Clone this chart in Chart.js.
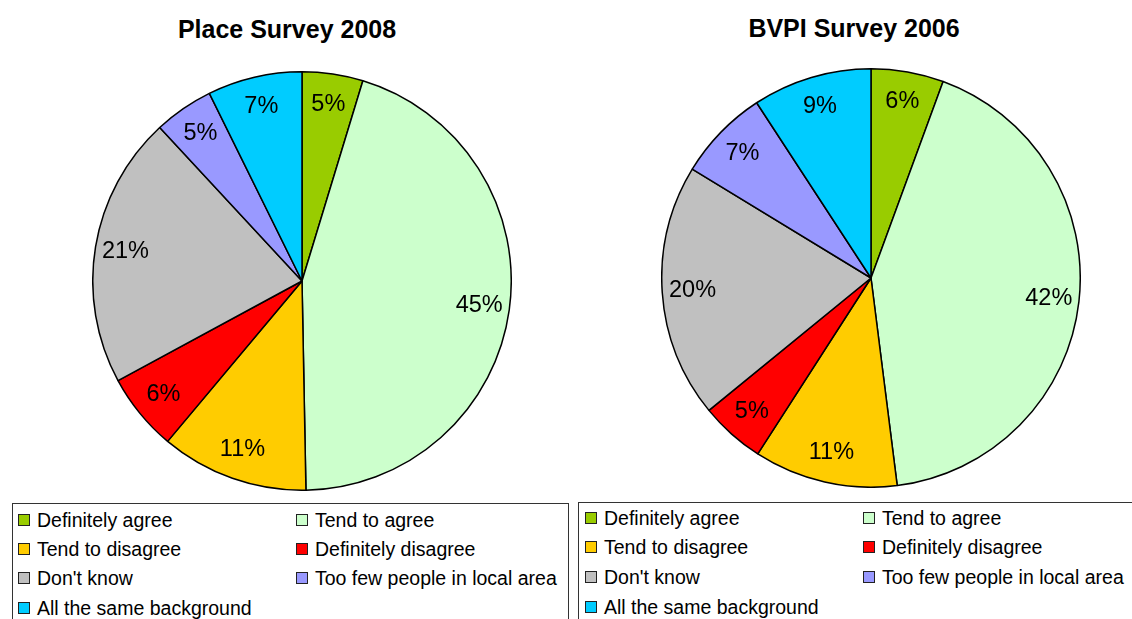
<!DOCTYPE html>
<html>
<head>
<meta charset="utf-8">
<script src="https://cdn.jsdelivr.net/npm/chart.js@4/dist/chart.umd.min.js"></script>
<style>
    body { margin: 0; background: #fff; font-family: "Liberation Sans", Arial, sans-serif; }
    #page { position: relative; width: 1132px; height: 619px; overflow: hidden; }
    .title { position: absolute; width: 400px; text-align: center; font-weight: bold; font-size: 25px; line-height: 30px; color: #000; }
    .pie { position: absolute; width: 420px; height: 420px; }
    .legend { position: absolute; border: 1px solid #333; height: 140px; box-sizing: border-box; }
    .item { position: absolute; height: 24px; line-height: 24px; font-size: 19.5px; white-space: nowrap; color: #000; }
    .swatch { position: absolute; left: 0; top: 6px; width: 10px; height: 10px; border: 1px solid #222; }
    .item span.txt { position: absolute; left: 19px; top: 0; }
</style>
</head>
<body>
<div id="page">
    <div class="title" id="titleLeft" style="left:87px; top:14px;"></div>
    <div class="pie" style="left:92px; top:71px;"><canvas id="placeChart"></canvas></div>
    <div class="legend" id="legendLeft" style="left:12px; top:503px; width:557px;"></div>

    <div class="title" id="titleRight" style="left:654px; top:13px;"></div>
    <div class="pie" style="left:661px; top:68px;"><canvas id="bvpiChart"></canvas></div>
    <div class="legend" id="legendRight" style="left:578px; top:502px; width:555px;"></div>
</div>
<script>
const LABELS = [
    'Definitely agree',
    'Tend to agree',
    'Tend to disagree',
    'Definitely disagree',
    "Don't know",
    'Too few people in local area',
    'All the same background'
];

const PLACE_2008 = [4.7, 45.0, 11.4, 6.0, 21.0, 4.6, 7.3];
const BVPI_2006 = [5.6, 42.4, 11.1, 5.0, 19.6, 7.1, 9.2];

const SLICE_COLORS = [
    '#99cc00',
    '#ccffcc',
    '#ffcc00',
    '#ff0000',
    '#c0c0c0',
    '#9999ff',
    '#00ccff'
];

const TITLE_LEFT = 'Place Survey 2008';
const TITLE_RIGHT = 'BVPI Survey 2006';

// percent labels inside the slices
const sliceLabels = {
    id: 'sliceLabels',
    afterDatasetsDraw(chart) {
        const ctx = chart.ctx;
        const meta = chart.getDatasetMeta(0);
        const values = chart.data.datasets[0].data;
        ctx.save();
        ctx.font = '23.5px "Liberation Sans", Arial, sans-serif';
        ctx.fillStyle = '#000';
        ctx.textAlign = 'center';
        ctx.textBaseline = 'middle';
        meta.data.forEach(function (arc, i) {
            const p = arc.getProps(['x', 'y', 'startAngle', 'endAngle', 'outerRadius'], true);
            const mid = (p.startAngle + p.endAngle) / 2;
            const r = p.outerRadius * 0.855;
            ctx.fillText(Math.round(values[i]) + '%', p.x + Math.cos(mid) * r, p.y + Math.sin(mid) * r);
        });
        ctx.restore();
    }
};

function buildLegend(el, colX, rowY) {
    for (let i = 0; i < LABELS.length; i++) {
        const item = document.createElement('div');
        item.className = 'item';
        item.style.left = colX[i % 2] + 'px';
        item.style.top = rowY[Math.floor(i / 2)] + 'px';
        item.innerHTML = '<div class="swatch" style="background:' + SLICE_COLORS[i] + '"></div><span class="txt"></span>';
        item.querySelector('.txt').textContent = LABELS[i];
        el.appendChild(item);
    }
}

function generatePieChart(canvasId, values) {
    const data = {
        labels: LABELS,
        datasets: [
            {
                data: values,
                backgroundColor: SLICE_COLORS,
                borderColor: '#000',
                borderWidth: 1.5
            }
        ]
    };

    const config = {
        type: 'pie',
        data: data,
        options: {
            responsive: true,
            maintainAspectRatio: false,
            animation: false,
            plugins: {
                legend: { display: false },
                tooltip: { enabled: false }
            }
        },
        plugins: [sliceLabels]
    };

    return new Chart(document.getElementById(canvasId), config);
}

document.getElementById('titleLeft').textContent = TITLE_LEFT;
document.getElementById('titleRight').textContent = TITLE_RIGHT;

generatePieChart('placeChart', PLACE_2008);
generatePieChart('bvpiChart', BVPI_2006);

buildLegend(document.getElementById('legendLeft'), [5, 283], [4, 33, 62, 92]);
buildLegend(document.getElementById('legendRight'), [6, 284], [3, 32, 62, 92]);
</script>
</body>
</html>
